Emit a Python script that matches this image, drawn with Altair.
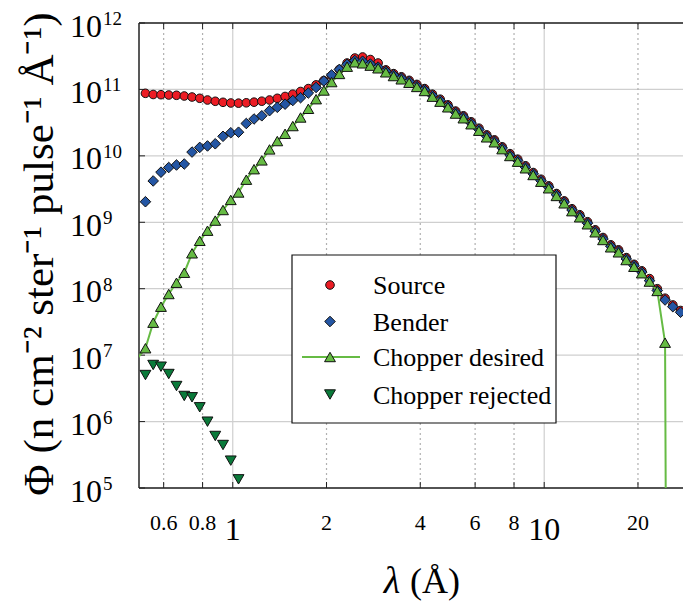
import altair as alt
import pandas as pd

# ---------------- data ----------------
LAMBDA = [0.5244, 0.5553, 0.5882, 0.6229, 0.6597, 0.6987, 0.7400, 0.7834, 0.8296, 0.8787,
          0.9305, 0.9854, 1.0435, 1.1052, 1.1703, 1.2394, 1.3125, 1.3900, 1.4723, 1.5587,
          1.6509, 1.7483, 1.8515, 1.9608, 2.0766, 2.1990, 2.3286, 2.4660, 2.6115, 2.7655,
          2.9288, 3.1015, 3.2845, 3.4783, 3.6836, 3.9010, 4.1312, 4.3752, 4.6334, 4.9068,
          5.1963, 5.5029, 5.8277, 6.1717, 6.5358, 6.9215, 7.3300, 7.7625, 8.2205, 8.7056,
          9.2195, 9.7634, 10.339, 10.950, 11.596, 12.280, 13.005, 13.772, 14.585, 15.446,
          16.357, 17.323, 18.345, 19.428, 20.574, 21.788, 23.074, 24.436, 25.878, 27.405,
          29.022]

SOURCE = [8.74e10, 8.39e10, 8.33e10, 8.24e10, 8.16e10, 7.96e10, 7.69e10, 7.35e10, 6.93e10, 6.63e10,
          6.40e10, 6.25e10, 6.21e10, 6.29e10, 6.43e10, 6.65e10, 6.93e10, 7.35e10, 7.83e10, 8.47e10,
          9.31e10, 1.03e11, 1.17e11, 1.36e11, 1.62e11, 2.00e11, 2.50e11, 2.97e11, 3.08e11, 2.82e11,
          2.50e11, 1.97e11, 1.73e11, 1.55e11, 1.37e11, 1.19e11, 1.03e11, 8.48e10, 7.13e10, 5.86e10,
          4.72e10, 4.01e10, 3.26e10, 2.61e10, 2.07e10, 1.74e10, 1.37e10, 1.08e10, 8.91e9, 7.09e9,
          5.61e9, 4.45e9, 3.54e9, 2.71e9, 2.10e9, 1.60e9, 1.30e9, 1.02e9, 7.71e8, 5.90e8,
          4.58e8, 3.85e8, 2.94e8, 2.33e8, 1.86e8, 1.42e8, 1.00e8, 7.20e7, 5.70e7, 4.70e7,
          3.95e7]

BENDER = [2.04e9, 4.19e9, 5.68e9, 6.68e9, 7.28e9, 7.54e9, 1.14e10, 1.34e10, 1.41e10, 1.52e10,
          1.97e10, 2.23e10, 2.27e10, 3.07e10, 3.59e10, 4.01e10, 4.79e10, 5.38e10, 6.00e10, 6.81e10,
          7.51e10, 8.83e10, 1.07e11, 1.34e11, 1.65e11, 2.00e11, 2.39e11, 2.72e11, 2.66e11, 2.41e11,
          2.17e11, 1.88e11, 1.65e11, 1.48e11, 1.31e11, 1.13e11, 9.85e10, 8.09e10, 6.80e10, 5.60e10,
          4.50e10, 3.83e10, 3.11e10, 2.49e10, 1.98e10, 1.66e10, 1.31e10, 1.03e10, 8.50e9, 6.76e9,
          5.36e9, 4.24e9, 3.38e9, 2.59e9, 2.01e9, 1.53e9, 1.24e9, 9.70e8, 7.35e8, 5.63e8,
          4.37e8, 3.67e8, 2.81e8, 2.23e8, 1.78e8, 1.32e8, 9.40e7, 6.76e7, 5.36e7, 4.42e7,
          3.71e7]

CHOPPER_DESIRED = [1.27e7, 3.08e7, 5.36e7, 8.32e7, 1.23e8, 1.74e8, 3.41e8, 5.26e8, 7.47e8, 1.06e9,
                   1.53e9, 2.17e9, 2.81e9, 4.38e9, 6.30e9, 8.55e9, 1.25e10, 1.67e10, 2.15e10, 2.81e10,
                   3.78e10, 5.11e10, 7.13e10, 9.64e10, 1.29e11, 1.71e11, 2.20e11, 2.56e11, 2.47e11, 2.28e11,
                   2.08e11, 1.81e11, 1.59e11, 1.42e11, 1.26e11, 1.09e11, 9.47e10, 7.78e10, 6.54e10, 5.38e10,
                   4.33e10, 3.68e10, 2.99e10, 2.39e10, 1.90e10, 1.60e10, 1.26e10, 9.95e9, 8.17e9, 6.50e9,
                   5.15e9, 4.08e9, 3.25e9, 2.49e9, 1.93e9, 1.47e9, 1.19e9, 9.33e8, 7.07e8, 5.41e8,
                   4.20e8, 3.53e8, 2.70e8, 2.14e8, 1.71e8, 1.28e8, 9.25e7, 1.54e7, 1e-20]
# the line enters from a point just left of the visible range
DESIRED_LEAD_LAMBDA = 0.4953
DESIRED_LEAD_VALUE = 9.06e6

CHOPPER_REJECTED = [5.02e6, 7.11e6, 6.70e6, 5.20e6, 3.43e6, 2.43e6, 2.32e6, 1.64e6, 9.96e5, 6.07e5,
                    4.44e5, 2.58e5, 1.35e5]

Y_DECADES = [1e5, 1e6, 1e7, 1e8, 1e9, 1e10, 1e11, 1e12]
Y_EXPONENTS = ["5", "6", "7", "8", "9", "10", "11", "12"]
X_MINOR_LABELS = [0.6, 0.8, 2, 4, 6, 8, 20]
X_MAJOR_LABELS = [1, 10]
X_TICKS = [0.6, 0.8, 1, 2, 4, 6, 8, 10, 20]

LEGEND_NAMES = ["Source", "Bender", "Chopper desired", "Chopper rejected"]

# ---------------- styling ----------------
W, H = 544, 465
FONT = "Liberation Serif"
RED = "#ec1c24"
BLUE = "#2456a4"
LGREEN = "#66bb44"
DGREEN = "#0a7a3a"
GRID = "#cfcfcf"
AX = "#222222"
EDGE = "#111111"

xs = alt.Scale(type="log", domain=[0.5, 27.9], nice=False)
ys = alt.Scale(type="log", domain=[1e5, 1e12], nice=False)

X = lambda f: alt.X(f, type="quantitative", scale=xs, axis=None)
Y = lambda f: alt.Y(f, type="quantitative", scale=ys, axis=None)

df_src = pd.DataFrame({"lam": LAMBDA, "phi": SOURCE})
df_ben = pd.DataFrame({"lam": LAMBDA, "phi": BENDER})
df_des = pd.DataFrame({"lam": LAMBDA[:len(CHOPPER_DESIRED)], "phi": CHOPPER_DESIRED})
df_des_line = pd.DataFrame({"lam": [DESIRED_LEAD_LAMBDA] + LAMBDA[:len(CHOPPER_DESIRED)],
                            "phi": [DESIRED_LEAD_VALUE] + CHOPPER_DESIRED})
df_rej = pd.DataFrame({"lam": LAMBDA[:len(CHOPPER_REJECTED)], "phi": CHOPPER_REJECTED})

df_ydec = pd.DataFrame({"v": Y_DECADES, "e": Y_EXPONENTS})
df_xsolid = pd.DataFrame({"v": X_MAJOR_LABELS})
df_xdot = pd.DataFrame({"v": X_MINOR_LABELS})
df_xticks = pd.DataFrame({"v": X_TICKS})
df_xminor = pd.DataFrame({"v": X_MINOR_LABELS, "t": [str(v) for v in X_MINOR_LABELS]})
df_xmajor = pd.DataFrame({"v": X_MAJOR_LABELS, "t": [str(v) for v in X_MAJOR_LABELS]})
one = pd.DataFrame({"k": [0]})

layers = []
# grid
layers.append(alt.Chart(df_ydec).mark_rule(color=GRID, strokeWidth=1.2).encode(y=Y("v")))
layers.append(alt.Chart(df_xsolid).mark_rule(color=GRID, strokeWidth=1.2).encode(x=X("v")))
layers.append(alt.Chart(df_xdot).mark_rule(color="#b0b0b0", strokeWidth=1.2, strokeDash=[2, 3]).encode(x=X("v")))
# frame (left, top, bottom)
layers.append(alt.Chart(one).mark_rule(color=AX, strokeWidth=1.5).encode(
    x=alt.value(0), y=alt.value(0), y2=alt.value(H)))
layers.append(alt.Chart(one).mark_rule(color=AX, strokeWidth=1.5).encode(
    x=alt.value(0), x2=alt.value(W), y=alt.value(0)))
layers.append(alt.Chart(one).mark_rule(color=AX, strokeWidth=1.5).encode(
    x=alt.value(0), x2=alt.value(W), y=alt.value(H)))
# inward ticks
layers.append(alt.Chart(df_ydec).mark_rule(color=AX, strokeWidth=1).encode(
    y=Y("v"), x=alt.value(0), x2=alt.value(6)))
layers.append(alt.Chart(df_xticks).mark_rule(color=AX, strokeWidth=1).encode(
    x=X("v"), y=alt.value(H), y2=alt.value(H - 6)))
layers.append(alt.Chart(df_xticks).mark_rule(color=AX, strokeWidth=1).encode(
    x=X("v"), y=alt.value(0), y2=alt.value(6)))

# data series
layers.append(alt.Chart(df_src).mark_point(shape="circle", filled=True, color=RED, size=74,
                                           stroke=EDGE, strokeWidth=1, opacity=1, clip=True)
              .encode(x=X("lam"), y=Y("phi")))
layers.append(alt.Chart(df_ben).mark_point(shape="diamond", filled=True, color=BLUE, size=112,
                                           stroke=EDGE, strokeWidth=1, opacity=1, clip=True)
              .encode(x=X("lam"), y=Y("phi")))
layers.append(alt.Chart(df_des_line).mark_line(color=LGREEN, strokeWidth=2, clip=True)
              .encode(x=X("lam"), y=Y("phi")))
layers.append(alt.Chart(df_des).mark_point(shape="triangle-up", filled=True, color=LGREEN, size=118,
                                           stroke=EDGE, strokeWidth=1, opacity=1, clip=True)
              .encode(x=X("lam"), y=Y("phi")))
layers.append(alt.Chart(df_rej).mark_point(shape="triangle-down", filled=True, color=DGREEN, size=118,
                                           stroke=EDGE, strokeWidth=1, opacity=1, clip=True)
              .encode(x=X("lam"), y=Y("phi")))

# legend
LX0, LX1, LY0, LY1 = 153, 417, 232, 400
layers.append(alt.Chart(one).mark_rect(fill="white", stroke="#111", strokeWidth=1.2).encode(
    x=alt.value(LX0), x2=alt.value(LX1), y=alt.value(LY0), y2=alt.value(LY1)))
rows = [262, 298.5, 334, 371.5]
sym_x = 191
layers.append(alt.Chart(one).mark_rule(color=LGREEN, strokeWidth=2).encode(
    x=alt.value(163), x2=alt.value(221), y=alt.value(rows[2])))
shapes = [("circle", RED, 74), ("diamond", BLUE, 112), ("triangle-up", LGREEN, 118), ("triangle-down", DGREEN, 118)]
for (shp, col, sz), ry in zip(shapes, rows):
    layers.append(alt.Chart(one).mark_point(shape=shp, filled=True, color=col, size=sz,
                                            stroke=EDGE, strokeWidth=1, opacity=1)
                  .encode(x=alt.value(sym_x), y=alt.value(ry)))
for name, ry in zip(LEGEND_NAMES, rows):
    layers.append(alt.Chart(one).mark_text(text=name, font=FONT, fontSize=26, align="left",
                                           baseline="middle", color="black")
                  .encode(x=alt.value(234), y=alt.value(ry + 1)))

# y tick labels: 10 with superscript exponent
layers.append(alt.Chart(df_ydec).mark_text(text="10", font=FONT, fontSize=32, align="right",
                                           baseline="middle", dy=3.5, color="black")
              .encode(y=Y("v"), x=alt.value(-37)))
layers.append(alt.Chart(df_ydec).mark_text(font=FONT, fontSize=19, align="left",
                                           baseline="middle", dy=-4, color="black")
              .encode(y=Y("v"), x=alt.value(-36), text="e:N"))
# x tick labels
layers.append(alt.Chart(df_xminor).mark_text(font=FONT, fontSize=22, align="center",
                                             baseline="middle", color="black")
              .encode(x=X("v"), y=alt.value(H + 35), text="t:N"))
layers.append(alt.Chart(df_xmajor).mark_text(font=FONT, fontSize=32, align="center",
                                             baseline="middle", color="black")
              .encode(x=X("v"), y=alt.value(H + 42), text="t:N"))
# axis titles
layers.append(alt.Chart(one).mark_text(text="λ", font=FONT, fontSize=38, fontStyle="italic",
                                       align="center", baseline="alphabetic", color="black")
              .encode(x=alt.value(253), y=alt.value(570)))
layers.append(alt.Chart(one).mark_text(text="(Å)", font=FONT, fontSize=36,
                                       align="center", baseline="alphabetic", color="black")
              .encode(x=alt.value(296), y=alt.value(570)))
layers.append(alt.Chart(one).mark_text(text="Φ (n cm⁻² ster⁻¹ pulse⁻¹ Å⁻¹)", font=FONT, fontSize=43,
                                       angle=270, align="center", baseline="middle", color="black")
              .encode(x=alt.value(-99), y=alt.value(231)))

chart = alt.layer(*layers).properties(
    width=W, height=H,
    autosize=alt.AutoSizeParams(type="none"),
    padding={"left": 131, "top": 15, "right": 0, "bottom": 117},
).configure_view(strokeWidth=0)

chart.save("out.html", embed_options={"renderer": "svg", "actions": False})
